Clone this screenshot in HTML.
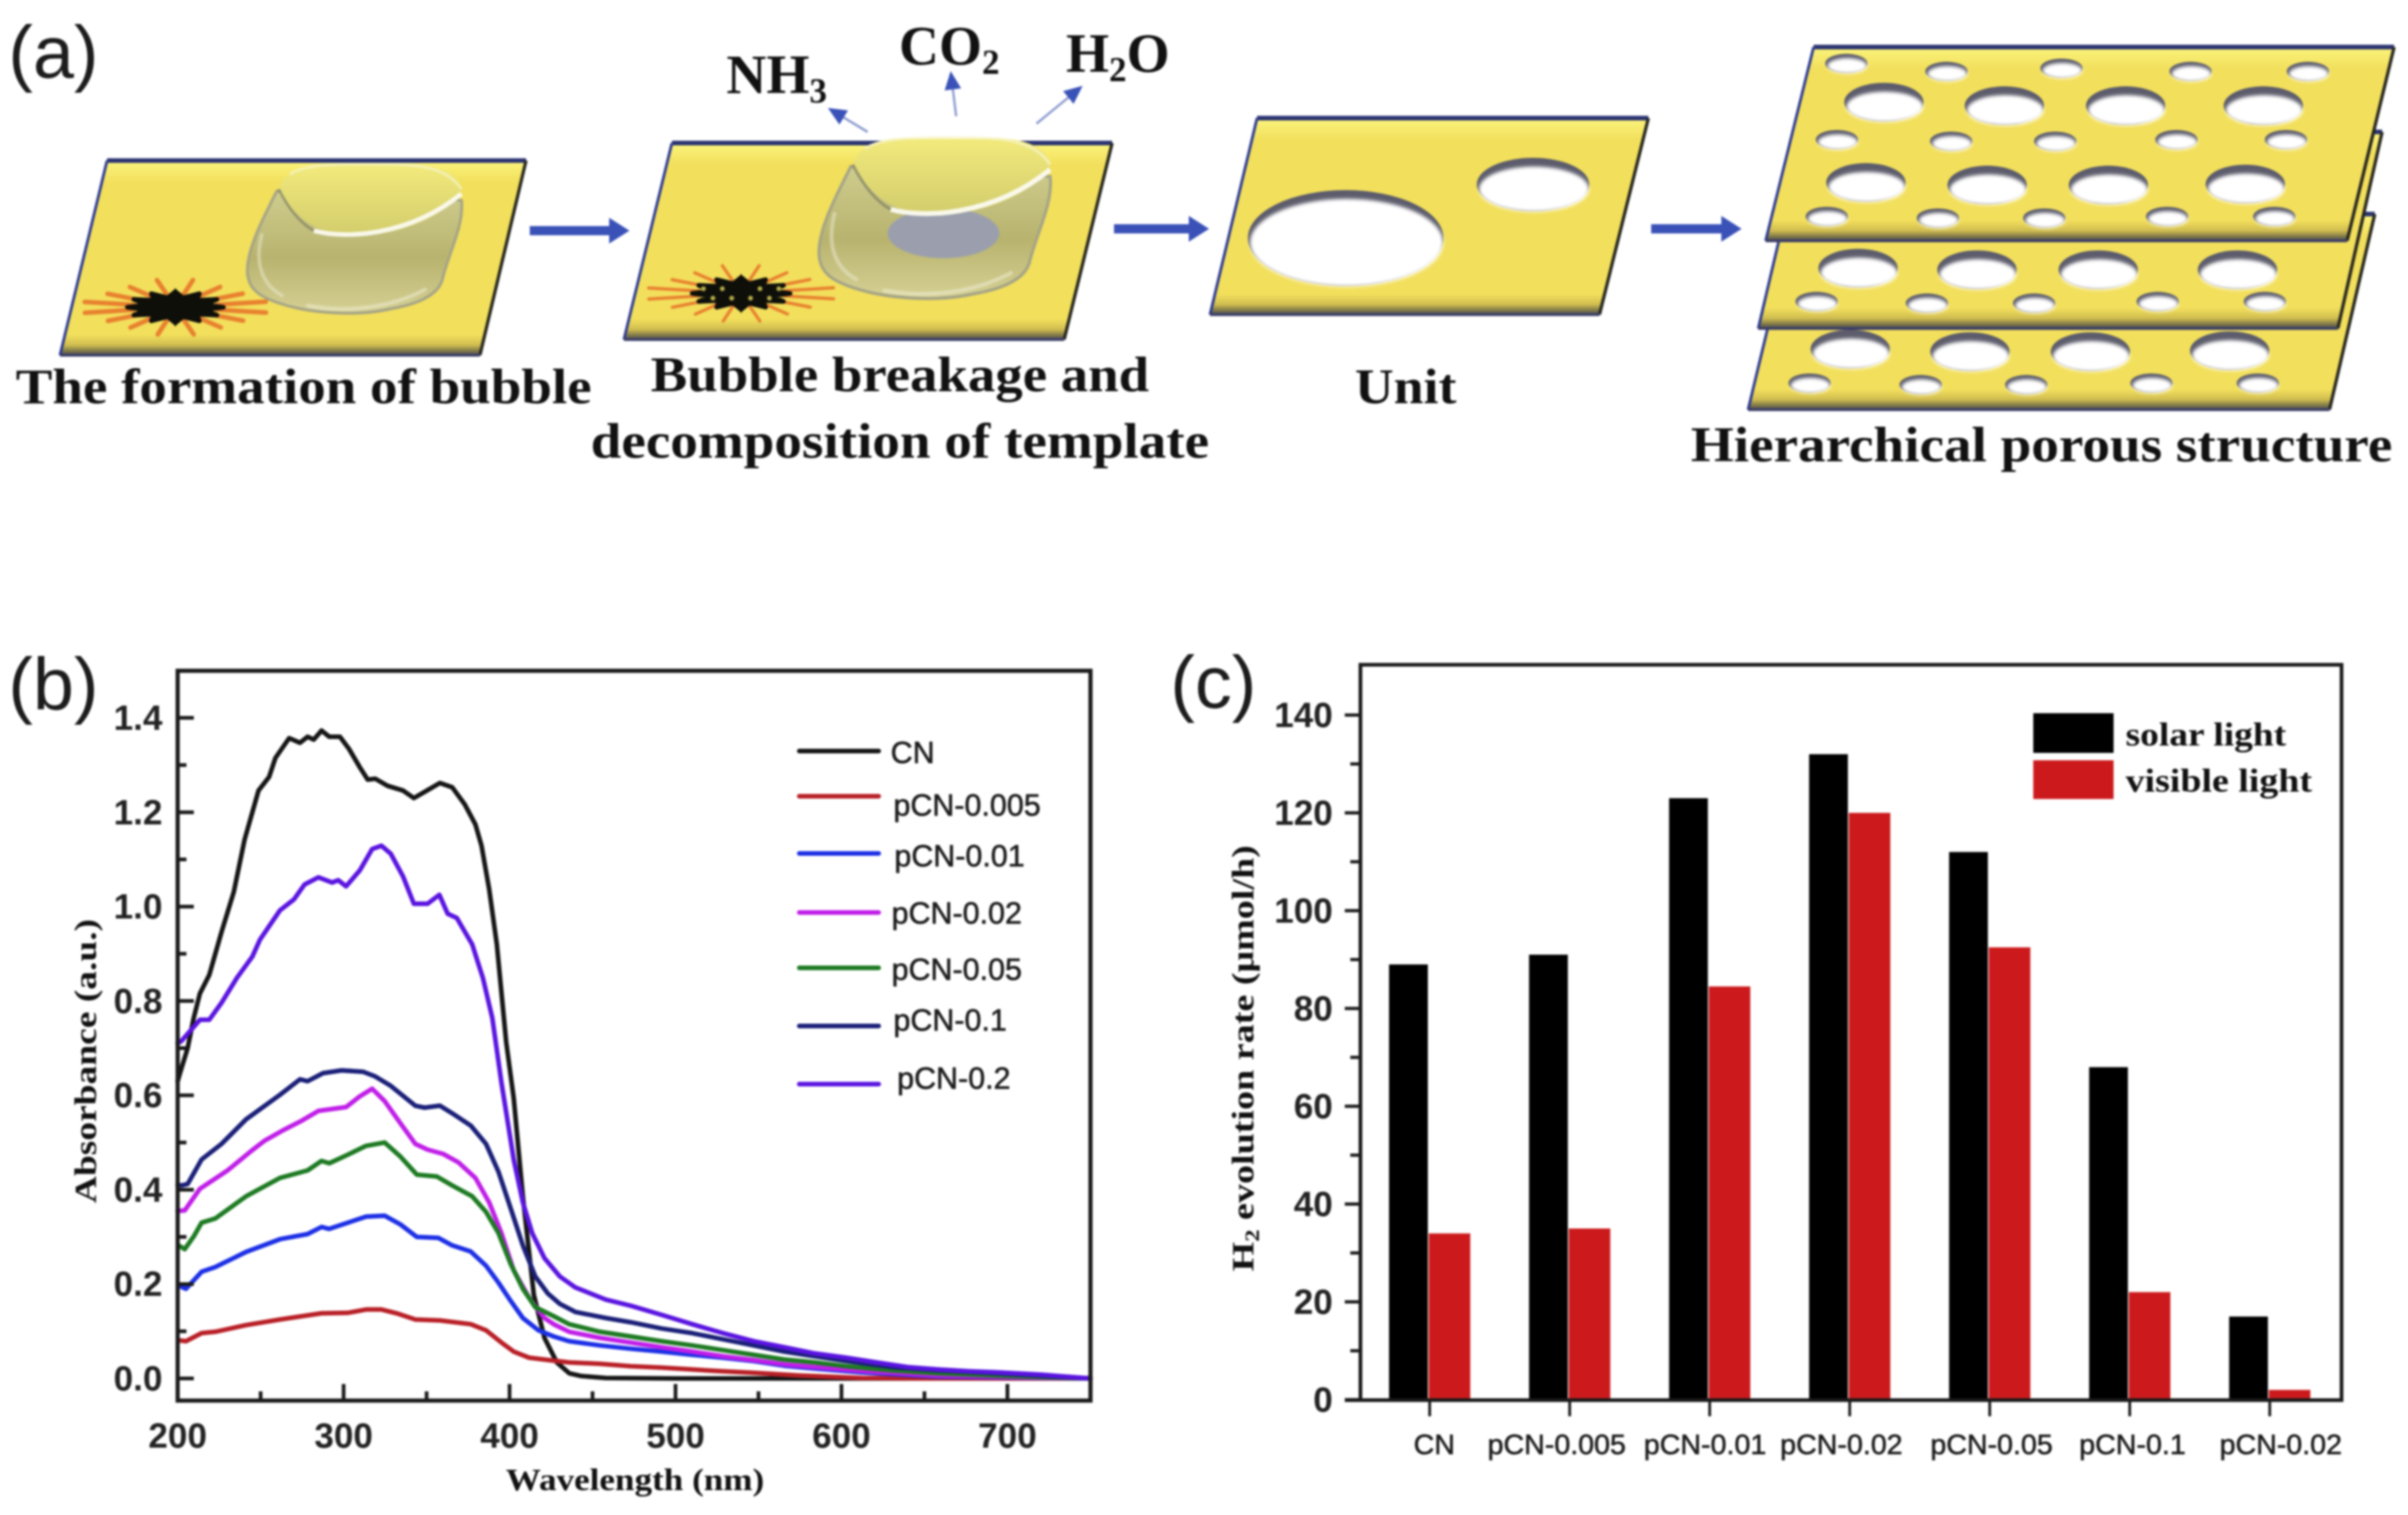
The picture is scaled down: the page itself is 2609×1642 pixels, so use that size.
<!DOCTYPE html>
<html lang="en">
<head>
<meta charset="utf-8">
<title>Hierarchical porous carbon nitride figure</title>
<style>
html,body{margin:0;padding:0;background:#fff;width:2609px;height:1642px;overflow:hidden}
svg{display:block;filter:blur(1px)}
.serif{font-family:"Liberation Serif",serif;font-weight:bold;fill:#111}
.sans{font-family:"Liberation Sans",sans-serif;fill:#1c1c1c}
.lite{stroke:#1c1c1c;stroke-width:.6px}
.tick{font-family:"Liberation Sans",sans-serif;font-weight:bold;fill:#222}
</style>
</head>
<body>
<svg id="fig" xmlns="http://www.w3.org/2000/svg" width="2609" height="1642" viewBox="0 0 2609 1642">
  <defs>
    <linearGradient id="plateTop" x1="0" y1="0" x2="0" y2="1"><stop offset="0" stop-color="#fbf47c"/><stop offset="1" stop-color="#f2df5c"/></linearGradient>
    <linearGradient id="plateBottom" x1="0" y1="0" x2="0" y2="1"><stop offset="0" stop-color="#f2df5c"/><stop offset="0.5" stop-color="#d0bd50"/><stop offset="0.8" stop-color="#7d7648"/><stop offset="1" stop-color="#4a4a5a"/></linearGradient>
    <linearGradient id="bubbleBody" x1="0" y1="0" x2="0" y2="1"><stop offset="0" stop-color="#cfcd8e"/><stop offset="0.55" stop-color="#b8b36e"/><stop offset="1" stop-color="#d6d194"/></linearGradient>
    <linearGradient id="bubbleTop" x1="0" y1="0" x2="0" y2="1"><stop offset="0" stop-color="#f2ea7c"/><stop offset="1" stop-color="#d2cc6c"/></linearGradient>
    <filter id="poreBlur" x="-20%" y="-30%" width="140%" height="160%"><feGaussianBlur stdDeviation="1.8"/></filter>
  </defs>

  <g id="panelA"></g>
  <text class="sans" x="9" y="84" font-size="80">(a)</text>
  <text class="serif" x="17" y="437" font-size="54" textLength="624" lengthAdjust="spacingAndGlyphs">The formation of bubble</text>
  <text class="serif" x="705" y="424" font-size="54" textLength="540" lengthAdjust="spacingAndGlyphs">Bubble breakage and</text>
  <text class="serif" x="640" y="496" font-size="54" textLength="670" lengthAdjust="spacingAndGlyphs">decomposition of template</text>
  <text class="serif" x="1468" y="437" font-size="54" textLength="110" lengthAdjust="spacingAndGlyphs">Unit</text>
  <text class="serif" x="1832" y="500" font-size="54" textLength="760" lengthAdjust="spacingAndGlyphs">Hierarchical porous structure</text>
  <text class="serif" x="787" y="101" font-size="60">NH<tspan font-size="38" dy="10">3</tspan></text>
  <text class="serif" x="974" y="70" font-size="60">CO<tspan font-size="38" dy="10">2</tspan></text>
  <text class="serif" x="1155" y="78" font-size="60">H<tspan font-size="38" dy="10">2</tspan><tspan dy="-10">O</tspan></text>

  <text class="sans" x="9" y="769" font-size="80">(b)</text>
  <g id="chartB"></g>
  <text class="serif" x="548" y="1615" font-size="34" textLength="280" lengthAdjust="spacingAndGlyphs">Wavelength (nm)</text>
  <text class="serif" transform="translate(104,1150) rotate(-90)" text-anchor="middle" font-size="34" textLength="308" lengthAdjust="spacingAndGlyphs">Absorbance (a.u.)</text>

  <text class="sans" x="1268" y="767" font-size="80">(c)</text>
  <g id="chartC"></g>
  <text class="serif" transform="translate(1358,1147) rotate(-90)" text-anchor="middle" font-size="34" textLength="462" lengthAdjust="spacingAndGlyphs">H<tspan font-size="22" dy="6">2</tspan><tspan dy="-6"> evolution rate (μmol/h)</tspan></text>
  <rect x="2203" y="773" width="87" height="43" fill="#000"/>
  <rect x="2203" y="824" width="87" height="42" fill="#cc1a1c"/>
  <text class="serif" x="2303" y="808" font-size="36" textLength="174" lengthAdjust="spacingAndGlyphs">solar light</text>
  <text class="serif" x="2303" y="858" font-size="36" textLength="202" lengthAdjust="spacingAndGlyphs">visible light</text>
</svg>

<script>
/* ---------- Chart (b) data ---------- */
const seriesNames = ['CN','pCN-0.005','pCN-0.01','pCN-0.02','pCN-0.05','pCN-0.1','pCN-0.2'];
const seriesColors = ['#151515','#b81f26','#1c2fe6','#c01ee8','#1d7a22','#1a1f78','#5a14e0'];

const cnNm = [200,201.4,206,209.7,213.4,219,226.4,233.8,240.3,248.7,255.1,258.9,267.2,273.7,278.3,282,286.7,291.3,297.8,303.3,309.8,314.5,319.1,326.5,335.8,342.3,349.7,358,365.4,372.9,379.4,383.1,387.7,392.3,398,402.5,408,414.6,421,428.5,436,443.3,458,500,600,750];
const cnAbs = [0.63,0.647,0.70,0.764,0.816,0.855,0.946,1.031,1.142,1.246,1.275,1.315,1.357,1.347,1.36,1.354,1.373,1.36,1.36,1.334,1.295,1.269,1.271,1.256,1.246,1.23,1.245,1.262,1.253,1.217,1.174,1.129,1.037,0.92,0.712,0.594,0.386,0.177,0.086,0.034,0.011,0.005,0.001,0,0,0];

const p005Nm = [200.5,205,214.4,222.7,241.2,261.6,286.7,302.4,313.5,322.8,332,343.2,358,376.6,385.8,395.1,402.5,411.8,428.5,435.9,454.4,473,491.5,510,528.6,547,575,612,650,750];
const p005Abs = [0.081,0.079,0.096,0.099,0.113,0.125,0.138,0.139,0.146,0.146,0.138,0.125,0.123,0.115,0.102,0.076,0.057,0.044,0.037,0.034,0.031,0.026,0.023,0.019,0.015,0.012,0.006,0.001,0,0];

const p01Nm = [200.5,205,214.4,222.7,241.2,261.6,278.3,286.7,291.3,313.5,324.7,334,344.1,357,365.4,376.6,385.8,393.3,400.7,408,417.4,426.6,435.9,454.4,473,491.5,510,528.6,547,565.6,584,612,658,750];
const p01Abs = [0.197,0.19,0.226,0.236,0.268,0.295,0.306,0.321,0.317,0.343,0.345,0.327,0.30,0.298,0.282,0.269,0.239,0.203,0.164,0.128,0.102,0.089,0.079,0.07,0.063,0.057,0.05,0.044,0.037,0.027,0.021,0.013,0.004,0];

const p02Nm = [200,204.2,213.4,230.1,245,252.4,263.5,274.6,284.8,301.5,309.8,317.2,324.7,334,343.2,350.6,359.9,369.2,379.4,387.7,395.1,402.5,411.8,421,426.6,435.9,454.4,473,491.5,510,528.6,547,565.6,584,612,658,750];
const p02Abs = [0.355,0.356,0.402,0.441,0.484,0.504,0.526,0.546,0.567,0.575,0.598,0.614,0.588,0.542,0.497,0.485,0.476,0.458,0.425,0.373,0.308,0.229,0.171,0.128,0.115,0.099,0.086,0.076,0.066,0.057,0.047,0.039,0.03,0.024,0.016,0.006,0];

const p05Nm = [200.5,204.2,209.7,214.4,222.7,241.2,261.6,278.3,286.7,291.3,302.4,313.5,324.7,334,344.1,356.2,365.4,377.5,385.8,393.3,400.7,408,415.5,426.6,435.9,454.4,473,491.5,510,528.6,547,565.6,584,602.7,630.5,658,693.6,750];
const p05Abs = [0.282,0.274,0.301,0.33,0.339,0.386,0.425,0.441,0.461,0.456,0.474,0.493,0.50,0.471,0.432,0.428,0.409,0.386,0.353,0.308,0.242,0.19,0.151,0.132,0.115,0.099,0.089,0.079,0.07,0.06,0.05,0.04,0.034,0.026,0.017,0.011,0.006,0];

const p1Nm = [200,202.3,206,214.4,226.4,241.2,261.6,273.7,278.3,287.6,298.7,311.7,319.1,328.4,343.2,348.8,358,365.4,376.6,385.8,393.3,400.7,408,415.5,423,430.3,439.6,458,473,491.5,510,528.6,547,565.6,584,602.7,630.5,658,693.6,750];
const p1Abs = [0.41,0.409,0.412,0.464,0.497,0.549,0.601,0.634,0.63,0.647,0.653,0.65,0.64,0.62,0.578,0.574,0.578,0.562,0.536,0.497,0.438,0.36,0.282,0.216,0.18,0.158,0.141,0.128,0.119,0.106,0.096,0.083,0.07,0.057,0.047,0.037,0.024,0.017,0.011,0];

const p2Nm = [200,202.3,207.9,213.4,219,226.4,235.7,245,249.6,261.6,270,276.5,284.8,293.1,296.8,301.5,309.8,317.2,322.8,328.4,335.8,342.3,350.6,357.7,362.7,368.2,377.5,384,389.6,395.1,402.5,408,413.6,421,430.3,439.6,458,473,491.5,510,528.6,547,565.6,584,602.7,621,640,658,677,693.6,720,750];
const p2Abs = [0.71,0.715,0.738,0.76,0.76,0.796,0.849,0.894,0.93,0.992,1.015,1.047,1.062,1.051,1.056,1.043,1.077,1.122,1.129,1.112,1.064,1.006,1.006,1.025,0.985,0.976,0.92,0.848,0.764,0.627,0.464,0.373,0.308,0.255,0.216,0.193,0.167,0.154,0.135,0.115,0.096,0.079,0.066,0.053,0.044,0.034,0.024,0.019,0.015,0.013,0.008,0];

const xTickLabels = ['200','300','400','500','600','700'];
const yTickLabels = ['0.0','0.2','0.4','0.6','0.8','1.0','1.2','1.4'];

/* ---------- Chart (c) data ---------- */
const categories = ['CN','pCN-0.005','pCN-0.01','pCN-0.02','pCN-0.05','pCN-0.1','pCN-0.02'];
const solarValues = [89,91,123,132,112,68,17];
const visibleValues = [34,35,84.5,120,92.5,22,2];
const rateTickLabels = ['0','20','40','60','80','100','120','140'];

const NS = 'http://www.w3.org/2000/svg';
function mk(parent, tag, attrs, text){
  const n = document.createElementNS(NS, tag);
  for (const k in attrs) n.setAttribute(k, attrs[k]);
  if (text !== undefined) n.textContent = text;
  parent.appendChild(n);
  return n;
}

/* ---------- Chart (b) ---------- */
(function(){
  const g = document.getElementById('chartB');
  const xB = nm => 192.5 + (nm - 200) * 1.798;
  const yB = a => 1494 - a * 511.4;

  const xs = [cnNm, p005Nm, p01Nm, p02Nm, p05Nm, p1Nm, p2Nm];
  const ys = [cnAbs, p005Abs, p01Abs, p02Abs, p05Abs, p1Abs, p2Abs];
  const order = [0,1,2,3,4,5,6];
  order.forEach(i => {
    const pts = xs[i].map((nm, j) => xB(nm).toFixed(1) + ',' + yB(ys[i][j]).toFixed(1)).join(' ');
    const l = mk(g, 'polyline', {points:pts, fill:'none', stroke:seriesColors[i], 'stroke-width':5, 'stroke-linejoin':'round', 'stroke-linecap':'round'});
    
    
  });

  const frame = mk(g, 'rect', {x:192.5, y:727, width:989, height:791, fill:'none', stroke:'#1a1a1a', 'stroke-width':4.5});
  
  

  for (let nm = 250; nm <= 700; nm += 100) {
    const t = mk(g, 'line', {x1:xB(nm), x2:xB(nm), y1:1518, y2:1508, stroke:'#1a1a1a', 'stroke-width':4});
    
    
  }
  xTickLabels.forEach(lbl => {
    const v = +lbl;
    const t = mk(g, 'line', {x1:xB(v), x2:xB(v), y1:1518, y2:1500, stroke:'#1a1a1a', 'stroke-width':4});
    
    
    const s = mk(g, 'text', {class:'tick', x:xB(v), y:1569, 'text-anchor':'middle', 'font-size':38}, lbl);
    
    
  });
  yTickLabels.forEach((lbl, i) => {
    const v = +lbl;
    const t = mk(g, 'line', {x1:192, x2:210, y1:yB(v), y2:yB(v), stroke:'#1a1a1a', 'stroke-width':4});
    
    
    if (i < yTickLabels.length - 1) {
      const m = mk(g, 'line', {x1:192, x2:202, y1:yB(v + 0.1), y2:yB(v + 0.1), stroke:'#1a1a1a', 'stroke-width':4});
      
      
    }
    const s = mk(g, 'text', {class:'tick', x:176, y:yB(v) + 13, 'text-anchor':'end', 'font-size':38}, lbl);
    
    
  });

  const legendLineY = [814,863,925,989,1049,1112,1175];
  const legendTextX = [965,968,969,966,966,968,972];
  const legendTextY = [815,872,927,989,1050,1105,1168];
  seriesNames.forEach((name, i) => {
    const l = mk(g, 'line', {x1:866, x2:952, y1:legendLineY[i], y2:legendLineY[i], stroke:seriesColors[i], 'stroke-width':5, 'stroke-linecap':'round'});
    
    
    const s = mk(g, 'text', {class:'sans lite', x:legendTextX[i], y:legendTextY[i] + 12, 'font-size':33}, name);
    
    
  });
})();

/* ---------- Chart (c) ---------- */
(function(){
  const g = document.getElementById('chartC');
  const yC = v => 1517 - v * 5.3;
  const xC = i => 1549 + i * 151.7;
  const labelNudge = [5,-14,-5,-9,2,3,12];

  categories.forEach((name, i) => {
    const a = mk(g, 'rect', {x:xC(i) - 44, y:yC(solarValues[i]), width:42, height:1517 - yC(solarValues[i]), fill:'#000'});
    
    
    const b = mk(g, 'rect', {x:xC(i) - 1, y:yC(visibleValues[i]), width:45, height:1517 - yC(visibleValues[i]), fill:'#cc1a1c'});
    
    
    const t = mk(g, 'line', {x1:xC(i), x2:xC(i), y1:1517, y2:1535, stroke:'#1a1a1a', 'stroke-width':3});
    
    
    const s = mk(g, 'text', {class:'sans lite', x:xC(i) + labelNudge[i], y:1576, 'text-anchor':'middle', 'font-size':31}, name);
    
    
  });

  const frame = mk(g, 'path', {d:'M1457,1517.5 H2537 V720.5 H1474 V1517.5', fill:'none', stroke:'#1a1a1a', 'stroke-width':4});
  
  

  rateTickLabels.forEach((lbl, i) => {
    const v = +lbl;
    const t = mk(g, 'line', {x1:1457, x2:1474, y1:yC(v), y2:yC(v), stroke:'#1a1a1a', 'stroke-width':3.5});
    
    
    if (i < rateTickLabels.length - 1) {
      const m = mk(g, 'line', {x1:1463, x2:1474, y1:yC(v + 10), y2:yC(v + 10), stroke:'#1a1a1a', 'stroke-width':3.5});
      
      
    }
    const s = mk(g, 'text', {class:'tick', x:1444, y:yC(v) + 13, 'text-anchor':'end', 'font-size':38}, lbl);
    
    
  });
})();

/* ---------- Panel (a) schematic ---------- */
(function(){
  const g = document.getElementById('panelA');
  function lerp(a, b, t){ return [a[0] + (b[0]-a[0])*t, a[1] + (b[1]-a[1])*t]; }
  function poly(parent, p, attrs){ return mk(parent, 'polygon', Object.assign({points:p.map(q => q.join(',')).join(' ')}, attrs)); }

  function plate(tl, tr, br, bl, name){
    const h = bl[1] - tl[1];
    const grp = mk(g, 'g', {});
    
    
    poly(grp, [tl, tr, br, bl], {fill:'#f2df5c'});
    const t1 = 24 / h, t2 = 1 - 22 / h;
    poly(grp, [tl, tr, lerp(tr, br, t1), lerp(tl, bl, t1)], {fill:'url(#plateTop)'});
    poly(grp, [lerp(tl, bl, t2), lerp(tr, br, t2), br, bl], {fill:'url(#plateBottom)'});
    mk(grp, 'line', {x1:tl[0], y1:tl[1], x2:tr[0], y2:tr[1], stroke:'#2c3572', 'stroke-width':5});
    mk(grp, 'line', {x1:tl[0], y1:tl[1], x2:bl[0], y2:bl[1], stroke:'#2c3a90', 'stroke-width':3});
    mk(grp, 'line', {x1:tr[0], y1:tr[1], x2:br[0], y2:br[1], stroke:'#26261e', 'stroke-width':3.5});
    mk(grp, 'line', {x1:bl[0], y1:bl[1], x2:br[0], y2:br[1], stroke:'#3a3d66', 'stroke-width':3});
    return grp;
  }

  function hole(parent, cx, cy, rx, ry){
    const shift = Math.min(5, ry / 4);
    const shade = mk(parent, 'ellipse', {cx:cx, cy:cy, rx:rx, ry:ry, fill:'#5c5c6c'});
    
    
    const pore = mk(parent, 'ellipse', {cx:cx + 1, cy:cy + shift, rx:rx - 1.5, ry:ry - shift + 0.5, fill:'#fff', filter:'url(#poreBlur)'});
    
    
  }

  function burst(cx, cy, s, ray, speck){
    const grp = mk(g, 'g', {});
    
    
    for (let a = 11; a < 360; a += 22.5) {
      const r = a * Math.PI / 180;
      const c = Math.cos(r), d = Math.sin(r);
      const far = Math.round(a) % 2 ? 100 : 88;
      mk(grp, 'line', {x1:cx + c*46*s, y1:cy + d*14*s, x2:cx + c*far*s, y2:cy + d*far*0.3*s, stroke:'#e8812f', 'stroke-width':ray, 'stroke-linecap':'round'});
    }
    let blob = '';
    for (let a = 0, k = 0; a < 360; a += 15, k++) {
      const r = a * Math.PI / 180;
      const f = k % 2 ? 0.62 : 1;
      const x = cx + Math.cos(r) * 52 * f * s;
      const y = cy + Math.sin(r) * 17 * f * s;
      blob += (k ? 'L' : 'M') + x.toFixed(1) + ',' + y.toFixed(1) + ' ';
    }
    mk(grp, 'path', {d:blob + 'Z', fill:'#0f0f0a', stroke:'#0f0f0a', 'stroke-width':5, 'stroke-linejoin':'round'});
    mk(grp, 'path', {d:`M${cx-7*s},${cy-8*s} L${cx},${cy-21*s} L${cx+7*s},${cy-8*s} L${cx+8*s},${cy+8*s} L${cx},${cy+21*s} L${cx-8*s},${cy+8*s} Z`, fill:'#0f0f0a'});
    if (speck) {
      for (let i = -4; i <= 4; i++) {
        if (i !== 0) {
          mk(grp, 'circle', {cx:cx + i*10*s, cy:cy + (i % 2 ? 5 : -5)*s, r:2.6, fill:'#b4ac48'});
        }
      }
    }
  }

  function bubble(cx, cy, s, inner){
    const grp = mk(g, 'g', {transform:`translate(${cx},${cy}) scale(${s})`});
    
    
    mk(grp, 'path', {d:'M-102,-6 C-115,20 -134,55 -134,80 C-134,102 -118,110 -95,117 C-60,128 -10,129 20,122 C55,116 75,105 78,87 C85,60 101,30 98,4 Z', fill:'url(#bubbleBody)', stroke:'#a5a486', 'stroke-width':3});
    mk(grp, 'path', {d:'M-118,40 C-126,70 -120,95 -95,108', fill:'none', stroke:'#e9e7d0', 'stroke-width':4, 'stroke-opacity':0.5});
    mk(grp, 'path', {d:'M-70,118 C-30,126 20,122 60,100', fill:'none', stroke:'#f0eed8', 'stroke-width':4, 'stroke-opacity':0.5});
    if (inner) {
      mk(grp, 'ellipse', {cx:-9, cy:61, rx:56, ry:25, fill:'#9b9fad'});
    }
    mk(grp, 'path', {d:'M-100,-8 C-95,-25 -80,-33 -50,-34 L50,-34 C80,-33 100,-20 98,-3 C80,15 50,40 -19,43 C-60,42 -85,20 -100,-8 Z', fill:'url(#bubbleTop)'});
    mk(grp, 'path', {d:'M-100,-8 C-90,12 -78,28 -62,37', fill:'none', stroke:'#77775e', 'stroke-width':3, 'stroke-opacity':0.6});
    mk(grp, 'path', {d:'M-62,37 C-30,46 40,44 98,-3', fill:'none', stroke:'#fbfaf0', 'stroke-width':5, 'stroke-opacity':0.95});
    mk(grp, 'path', {d:'M-88,-24 C-70,-36 -30,-35 0,-35 C40,-35 80,-36 98,-8', fill:'none', stroke:'#f6f3c8', 'stroke-width':3, 'stroke-opacity':0.7});
  }

  function bigArrow(x1, x2, y){
    const a = mk(g, 'path', {d:`M${x1},${y-5} H${x2-22} V${y-14} L${x2},${y} L${x2-22},${y+14} V${y+5} H${x1} Z`, fill:'#3a52b8'});
    
    
  }

  function smallArrow(x1, y1, x2, y2){
    const dx = x2 - x1, dy = y2 - y1, L = Math.hypot(dx, dy), ux = dx / L, uy = dy / L;
    const bx = x2 - ux * 20, by = y2 - uy * 20;
    const l = mk(g, 'line', {x1:x1, y1:y1, x2:bx, y2:by, stroke:'#8b9ad0', 'stroke-width':2.5});
    
    
    const h = mk(g, 'polygon', {points:`${x2},${y2} ${bx - uy*9},${by + ux*9} ${bx + uy*9},${by - ux*9}`, fill:'#3a52b8'});
    
    
  }

  plate([116,174],[570,174],[520,385],[65,385], 'plate-bubble-formation');
  burst(190, 333, 1, 5, false);
  bubble(402, 213, 1, false);

  plate([728,155],[1205,155],[1153,368],[676,368], 'plate-bubble-breakage');
  burst(803, 318, 1.02, 3.5, true);
  bubble(1032, 187, 1.08, true);

  bigArrow(574, 682, 250);
  bigArrow(1207, 1310, 248);
  bigArrow(1789, 1887, 248);

  smallArrow(940, 143, 897, 117);
  smallArrow(1036, 126, 1030, 77);
  smallArrow(1123, 134, 1173, 93);

  const unit = plate([1362,128],[1786,128],[1733,341],[1311,341], 'plate-unit');
  hole(unit, 1458, 258, 106, 52);
  hole(unit, 1661, 200, 61, 29);

  const zx = x => 1280 + 0.8476 * x;
  const zy = y => 0.344 * y;
  const drawRows = (grp, bigs, smalls) => {
    bigs.forEach(p => hole(grp, zx(p[0]), zy(p[1]), 43, 21));
    smalls.forEach(p => hole(grp, zx(p[0]), zy(p[1]), 23, 10.5));
  };

  const low = plate([1945,232],[2573,232],[2524,444],[1894,444], 'porous-layer-bottom');
  drawRows(low,
    [[855,1100],[1008,1108],[1162,1108],[1340,1105]],
    [[803,1207],[945,1212],[1080,1212],[1240,1207],[1376,1207]]);

  const mid = plate([1955,143],[2581,143],[2533,356],[1905,356], 'porous-layer-middle');
  drawRows(mid,
    [[865,845],[1017,850],[1172,850],[1350,850]],
    [[812,950],[953,955],[1090,955],[1248,950],[1385,950]]);

  const top = plate([1965,51],[2594,51],[2543,261],[1913,261], 'porous-layer-top');
  drawRows(top,
    [[898,322],[1052,333],[1207,333],[1383,333],[875,575],[1030,583],[1185,583],[1360,580]],
    [[850,200],[978,225],[1125,215],[1290,225],[1440,225],[838,440],[984,445],[1117,445],[1272,440],[1412,440],[825,682],[967,687],[1103,687],[1260,682],[1397,682]]);
})();
</script>
</body>
</html>
